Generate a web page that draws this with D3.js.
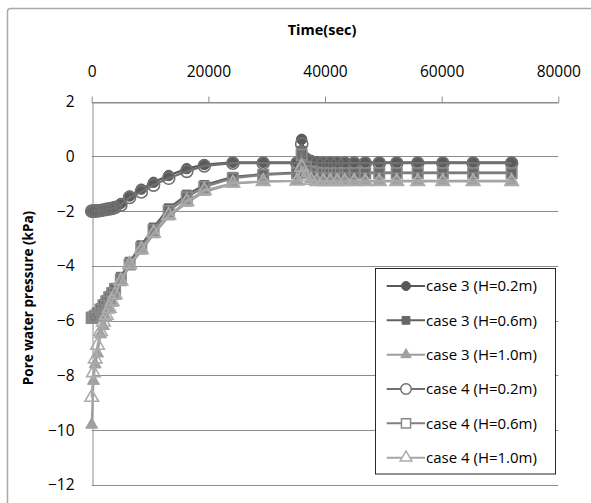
<!DOCTYPE html>
<html>
<head>
<meta charset="utf-8">
<script src="https://cdn.jsdelivr.net/npm/d3@7"></script>
<style>
  body { margin: 0; background: #fff; }
  text { font-family: "Open Sans", sans-serif; fill: #000; }
</style>
</head>
<body>
<div id="chart"></div>
<script>
// time axis (sec), shared by all series
const timeSec = [0, 300, 600, 1000, 1500, 2000, 2500, 3000, 3500, 4000, 5000, 6500, 8500, 10600, 13200, 16300, 19300,
    24200, 29400, 35200, 36000, 36700, 37600, 38600, 39700, 40900, 42100, 43400, 45000, 46900, 49300, 52300, 55900,
    60200, 65400, 72000];

// pore water pressure (kPa)
const case3_H02 = [-2.0, -2.0, -1.99, -1.98, -1.96, -1.94, -1.92, -1.9, -1.87, -1.83, -1.72, -1.45, -1.2, -0.95, -0.7, -0.45, -0.3,
    -0.22, -0.22, -0.22, 0.62, -0.05, -0.15, -0.2, -0.22, -0.22, -0.22, -0.22, -0.22, -0.22, -0.22, -0.22, -0.22,
    -0.22, -0.22, -0.22];
const case3_H06 = [-5.9, -5.85, -5.8, -5.7, -5.55, -5.4, -5.25, -5.1, -4.95, -4.8, -4.4, -3.85, -3.25, -2.6, -1.9, -1.4, -1.05,
    -0.75, -0.65, -0.6, 0.2, -0.3, -0.5, -0.57, -0.6, -0.6, -0.6, -0.6, -0.6, -0.6, -0.6, -0.6, -0.6,
    -0.6, -0.6, -0.6];
const case3_H10 = [-9.8, -8.2, -7.6, -7.2, -6.5, -6.2, -5.9, -5.6, -5.35, -5.1, -4.6, -4.0, -3.45, -2.85, -2.2, -1.7, -1.3,
    -1.0, -0.92, -0.9, -0.3, -0.7, -0.85, -0.9, -0.9, -0.9, -0.9, -0.9, -0.9, -0.9, -0.9, -0.9, -0.9,
    -0.9, -0.9, -0.9];
const case4_H02 = [-2.0, -2.0, -2.0, -1.99, -1.98, -1.96, -1.94, -1.92, -1.9, -1.87, -1.78, -1.5, -1.3, -1.05, -0.8, -0.55, -0.35,
    -0.25, -0.25, -0.25, 0.45, -0.1, -0.2, -0.24, -0.25, -0.25, -0.25, -0.25, -0.25, -0.25, -0.25, -0.25, -0.25,
    -0.25, -0.25, -0.25];
const case4_H06 = [-5.9, -5.88, -5.82, -5.74, -5.6, -5.45, -5.3, -5.15, -5.0, -4.85, -4.5, -3.95, -3.35, -2.7, -2.0, -1.5, -1.12,
    -0.8, -0.68, -0.62, 0.05, -0.4, -0.55, -0.6, -0.62, -0.62, -0.62, -0.62, -0.62, -0.62, -0.62, -0.62, -0.62,
    -0.62, -0.62, -0.62];
const case4_H10 = [-8.8, -7.9, -7.4, -6.9, -6.4, -6.05, -5.8, -5.55, -5.3, -5.05, -4.55, -3.95, -3.4, -2.8, -2.15, -1.65, -1.25,
    -0.98, -0.92, -0.9, -0.4, -0.75, -0.88, -0.92, -0.92, -0.92, -0.92, -0.92, -0.92, -0.92, -0.92, -0.92, -0.92,
    -0.92, -0.92, -0.92];

const seriesNames = ["case 3 (H=0.2m)", "case 3 (H=0.6m)", "case 3 (H=1.0m)", "case 4 (H=0.2m)", "case 4 (H=0.6m)", "case 4 (H=1.0m)"];
const seriesValues = [case3_H02, case3_H06, case3_H10, case4_H02, case4_H06, case4_H10];
const xTicks = [0, 20000, 40000, 60000, 80000];
const yTicks = [2, 0, -2, -4, -6, -8, -10, -12];

// styles per series
const styles = [
    {line: "#595959", marker: "circle",   color: "#5a5a5a", filled: true,  size: 85},
    {line: "#626262", marker: "square",   color: "#686868", filled: true,  size: 81},
    {line: "#9c9c9c", marker: "triangle", color: "#a0a0a0", filled: true,  size: 62},
    {line: "#707070", marker: "circle",   color: "#707070", filled: false, size: 115},
    {line: "#808080", marker: "square",   color: "#8a8a8a", filled: false, size: 110},
    {line: "#a6a6a6", marker: "triangle", color: "#acacac", filled: false, size: 80}
];
const symbolType = {circle: d3.symbolCircle, square: d3.symbolSquare, triangle: d3.symbolTriangle};

const width = 591, height = 503;
const svg = d3.select("#chart").append("svg")
    .attr("width", width)
    .attr("height", height);

// chart border
svg.append("rect")
    .attr("x", 7.5).attr("y", 8.5)
    .attr("width", 620).attr("height", 520)
    .attr("rx", 3)
    .attr("fill", "#fff")
    .attr("stroke", "#a9a9a9")
    .attr("stroke-width", 1.5);

const x = d3.scaleLinear().domain([0, 80000]).range([91.7, 558.3]);
const y = d3.scaleLinear().domain([2, -12]).range([101.5, 485]);

/* grid lines */
svg.append("g").selectAll("line")
    .data(yTicks)
    .enter().append("line")
    .attr("x1", x(0)).attr("x2", x(80000))
    .attr("y1", function(d) { return Math.round(y(d)) + 0.5; })
    .attr("y2", function(d) { return Math.round(y(d)) + 0.5; })
    .attr("stroke", "#8c8c8c");

/* axes */
const xAxis = svg.append("g")
    .attr("transform", "translate(0," + (Math.round(y(2)) + 0.5) + ")")
    .call(d3.axisTop(x).tickValues(xTicks).tickSize(6).tickSizeOuter(0).tickPadding(20).tickFormat(d3.format("d")));
xAxis.select(".domain").attr("stroke", "#8c8c8c");
xAxis.selectAll(".tick line").attr("stroke", "#8c8c8c");
xAxis.selectAll("text").style("font-size", "15.5px").attr("fill", "#000");

const yAxis = svg.append("g")
    .attr("transform", "translate(" + (Math.round(x(0)) + 0.5) + ",0)")
    .call(d3.axisLeft(y).tickValues(yTicks).tickSize(0).tickPadding(18).tickFormat(d3.format("d")));
yAxis.select(".domain").attr("stroke", "#8c8c8c");
yAxis.selectAll("text").style("font-size", "15.5px").attr("fill", "#000");

// titles
svg.append("text")
    .attr("x", 322).attr("y", 35)
    .attr("text-anchor", "middle")
    .style("font-size", "14.5px").style("font-weight", "bold")
    .text("Time(sec)");

svg.append("text")
    .attr("transform", "translate(33,298) rotate(-90)")
    .attr("text-anchor", "middle")
    .style("font-size", "13.5px").style("font-weight", "bold")
    .text("Pore water pressure (kPa)");

/* series */
const line = d3.line()
    .x(function(d) { return x(d.t); })
    .y(function(d) { return y(d.v); });

const plot = svg.append("g");
seriesValues.forEach(function(vals, i) {
    const st = styles[i];
    const pts = timeSec.map(function(t, j) { return {t: t, v: vals[j]}; });
    const g = plot.append("g");
    g.append("path")
        .datum(pts)
        .attr("d", line)
        .attr("fill", "none")
        .attr("stroke", st.line)
        .attr("stroke-width", 2.2);
    g.selectAll("path.mk")
        .data(pts)
        .enter().append("path")
        .attr("class", "mk")
        .attr("transform", function(d) { return "translate(" + x(d.t) + "," + y(d.v) + ")"; })
        .attr("d", d3.symbol().type(symbolType[st.marker]).size(st.size))
        .attr("fill", st.filled ? st.color : "none")
        .attr("stroke", st.color)
        .attr("stroke-width", st.filled ? 1 : 1.6);
});

/* legend */
const legend = svg.append("g");
legend.append("rect")
    .attr("x", 375.5).attr("y", 268.5)
    .attr("width", 180).attr("height", 205.5)
    .attr("fill", "#fff")
    .attr("stroke", "#262626");

const legY = d3.scalePoint().domain(seriesNames).range([286, 457.7]);
seriesNames.forEach(function(name, i) {
    const st = styles[i];
    const yy = legY(name);
    legend.append("line")
        .attr("x1", 386.7).attr("x2", 425)
        .attr("y1", yy).attr("y2", yy)
        .attr("stroke", st.line)
        .attr("stroke-width", 2);
    legend.append("path")
        .attr("transform", "translate(406," + yy + ")")
        .attr("d", d3.symbol().type(symbolType[st.marker]).size(st.size * 0.75))
        .attr("fill", st.filled ? st.color : "#fff")
        .attr("stroke", st.color)
        .attr("stroke-width", st.filled ? 1 : 1.5);
    legend.append("text")
        .attr("x", 426).attr("y", yy)
        .attr("dy", "0.35em")
        .style("font-size", "15px")
        .text(name);
});
</script>
</body>
</html>
